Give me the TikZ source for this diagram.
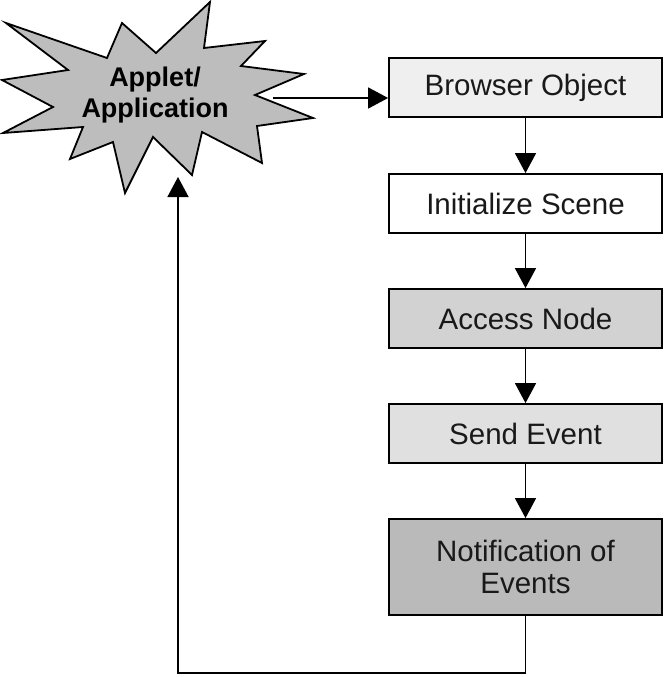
\documentclass[tikz,border=0pt]{standalone}
\usepackage{fontspec}
\setmainfont{Liberation Sans}
\usetikzlibrary{arrows.meta}
\definecolor{cstar}{HTML}{BDBDBD}
\definecolor{cbrowser}{HTML}{EFEFEF}
\definecolor{caccess}{HTML}{D2D2D2}
\definecolor{csend}{HTML}{E0E0E0}
\definecolor{cnotif}{HTML}{BABABA}
\tikzset{
  box/.style={draw=black, line width=1.8pt, minimum width=273pt, minimum height=59pt, inner sep=0pt, align=center, font=\fontsize{29.5}{32}\selectfont, text=black!90},
  arr/.style={line width=1.5pt, -{Triangle[length=20pt,width=21pt]}},
}
\begin{document}
\begin{tikzpicture}[x=1pt,y=-1pt]
\useasboundingbox (0,0) rectangle (665,677);
% star
\draw[fill=cstar, line width=1.8pt, line join=miter]
  (6,23) -- (107,58) -- (122,23) -- (156,53) -- (210,2) -- (204,48) -- (265,41) -- (241,66)
  -- (304,74) -- (255,95) -- (313,118) -- (257,126) -- (262,163) -- (202,132) -- (192,175)
  -- (153,137) -- (125,193) -- (113,142) -- (70,159) -- (83,127) -- (3,133) -- (53,107)
  -- (2,80) -- (68,70) -- cycle;
\node[align=center, font=\bfseries\fontsize{27}{31}\selectfont, text=black, inner sep=0pt] (star) at (155,95) {Applet/\\Application};
% boxes
\node[box, fill=cbrowser] (browser) at (525.5,87.5) {Browser Object};
\node[box, fill=white] (init) at (525.5,203.5) {Initialize Scene};
\node[box, fill=caccess] (access) at (525.5,318.5) {Access Node};
\node[box, fill=csend] (send) at (525.5,433.5) {Send Event};
\node[box, fill=cnotif, minimum height=96pt] (notif) at (525.5,567) {Notification of\\Events};
% connectors
\draw[arr] (browser) -- (init);
\draw[arr] (init) -- (access);
\draw[arr] (access) -- (send);
\draw[arr] (send) -- (notif);
\coordinate (starR) at (273,98);
\coordinate (starB) at (178,177);
\draw[arr] (starR) -- (starR -| browser.west);
\draw[arr] (notif.south) -- ++(0,57) -| (starB);
\end{tikzpicture}
\end{document}
